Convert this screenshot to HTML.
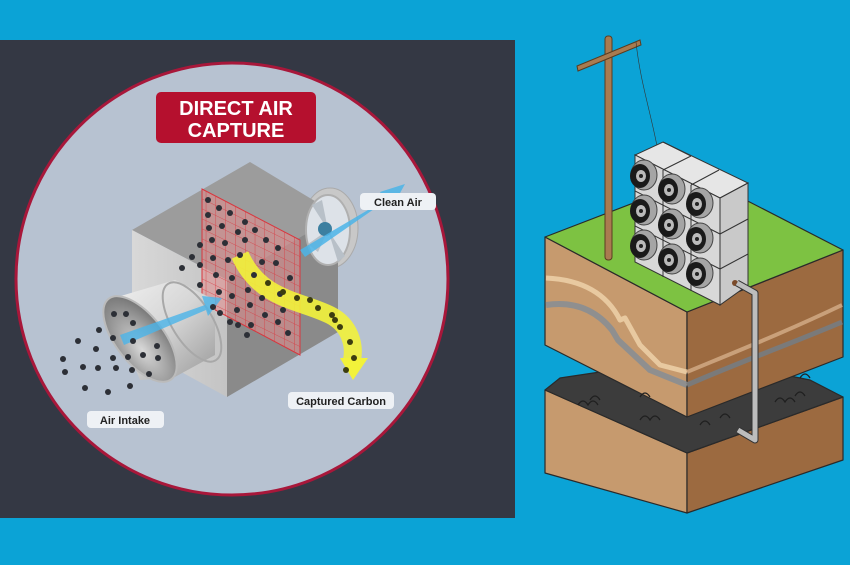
<!DOCTYPE html>
<html><head><meta charset="utf-8"><style>
html,body{margin:0;padding:0;background:#0ba3d6;}
svg{display:block}
text{font-family:"Liberation Sans",sans-serif;font-weight:bold}
</style></head><body>
<svg width="850" height="565" viewBox="0 0 850 565" xmlns="http://www.w3.org/2000/svg">
<defs>
<linearGradient id="cyl" x1="0" y1="0" x2="1" y2="1">
<stop offset="0" stop-color="#f2f2f2"/><stop offset="0.5" stop-color="#d6d6d6"/><stop offset="1" stop-color="#9a9a9a"/></linearGradient>
<radialGradient id="hole" cx="0.6" cy="0.6" r="0.7"><stop offset="0" stop-color="#d8d8d8"/><stop offset="1" stop-color="#6d6d6d"/></radialGradient>
<linearGradient id="lf" x1="0" y1="0" x2="1" y2="0"><stop offset="0" stop-color="#d8d8d8"/><stop offset="1" stop-color="#c4c4c4"/></linearGradient>
<pattern id="grid" width="9.8" height="10" patternUnits="userSpaceOnUse" patternTransform="skewY(26)">
<path d="M0 0H9.8M0 0V10" stroke="#d9363e" stroke-width="0.8" fill="none"/></pattern>
<g id="fan"><ellipse cx="0" cy="0" rx="13" ry="15" fill="#a5a5a5" stroke="#444"/><ellipse cx="-4" cy="1" rx="10" ry="12" fill="#1a1a1a"/><ellipse cx="-3" cy="1" rx="5" ry="6" fill="#bbb"/><circle cx="-3" cy="1" r="2" fill="#222"/></g>
</defs>
<rect width="850" height="565" fill="#0ba3d6"/>
<!-- left panel -->
<rect x="0" y="40" width="515" height="478" fill="#343844"/>
<circle cx="232" cy="279" r="216" fill="#b7c2d1" stroke="#a8173a" stroke-width="3"/>
<rect x="156" y="92" width="160" height="51" rx="5" fill="#b5102e"/>
<text x="236" y="115" fill="#fff" font-size="20" text-anchor="middle">DIRECT AIR</text>
<text x="236" y="137" fill="#fff" font-size="20" text-anchor="middle">CAPTURE</text>
<!-- fan housing -->
<ellipse cx="330" cy="228" rx="28" ry="40" fill="#c8c8c8" stroke="#aaa"/>
<!-- cube -->
<polygon points="132,230 250,162 338,215 227,280" fill="#9c9c9c"/>
<polygon points="132,230 227,280 227,397 132,345" fill="url(#lf)"/>
<polygon points="227,280 338,215 338,332 227,397" fill="#8a8a8a"/>
<ellipse cx="328" cy="230" rx="22" ry="35" fill="#dde2e8" stroke="#b0b0b0" stroke-width="2"/>
<path d="M328 230 L312 205 L322 200Z M328 230 L318 252 L308 244Z M328 230 L345 256 L338 262Z" fill="#b8c0c8"/>
<circle cx="325" cy="229" r="7" fill="#3c7fa0"/>
<!-- filter -->
<polygon points="202,189 300,240 300,355 202,303" fill="#e58d8d" fill-opacity="0.55" stroke="#d9363e"/>
<polygon points="202,189 300,240 300,355 202,303" fill="url(#grid)"/>
<!-- intake cylinder -->
<polygon points="107,300 175,280 215,300 215,355 173,378 140,380" fill="url(#cyl)"/>
<ellipse cx="192" cy="322" rx="45" ry="20" transform="rotate(58 192 322)" fill="none" stroke="#a8a8a8" stroke-width="2"/>
<ellipse cx="140" cy="339" rx="51" ry="24" transform="rotate(52 140 339)" fill="url(#hole)" stroke="#bbb" stroke-width="2"/>
<!-- blue arrows -->
<polygon points="120,335 205,305 202,296 222,298 208,316 206,310 124,345" fill="#4bb4e8" fill-opacity="0.8"/>
<polygon points="300,250 385,200 380,192 405,184 394,204 390,198 305,257" fill="#4bb4e8" fill-opacity="0.85"/>
<!-- yellow arrow -->
<path d="M240 255 C260 300 300 300 330 315 C350 325 355 345 352 360" stroke="#f2f23a" stroke-width="18" fill="none" stroke-opacity="0.9"/>
<polygon points="340,358 368,358 353,380" fill="#f2f23a"/>
<g fill="#2c2f36">
<circle cx="208" cy="200" r="3"/><circle cx="219" cy="208" r="3"/><circle cx="230" cy="213" r="3"/><circle cx="208" cy="215" r="3"/><circle cx="245" cy="222" r="3"/><circle cx="255" cy="230" r="3"/><circle cx="209" cy="228" r="3"/><circle cx="222" cy="226" r="3"/><circle cx="238" cy="232" r="3"/><circle cx="212" cy="240" r="3"/><circle cx="225" cy="243" r="3"/><circle cx="245" cy="240" r="3"/><circle cx="266" cy="240" r="3"/><circle cx="278" cy="248" r="3"/><circle cx="200" cy="245" r="3"/><circle cx="192" cy="257" r="3"/><circle cx="213" cy="258" r="3"/><circle cx="228" cy="260" r="3"/><circle cx="240" cy="255" r="3"/><circle cx="262" cy="262" r="3"/><circle cx="276" cy="263" r="3"/><circle cx="200" cy="265" r="3"/><circle cx="216" cy="275" r="3"/><circle cx="232" cy="278" r="3"/><circle cx="254" cy="275" r="3"/><circle cx="290" cy="278" r="3"/><circle cx="182" cy="268" r="3"/><circle cx="200" cy="285" r="3"/><circle cx="219" cy="292" r="3"/><circle cx="232" cy="296" r="3"/><circle cx="248" cy="290" r="3"/><circle cx="262" cy="298" r="3"/><circle cx="280" cy="294" r="3"/><circle cx="213" cy="307" r="3"/><circle cx="237" cy="310" r="3"/><circle cx="250" cy="305" r="3"/><circle cx="265" cy="315" r="3"/><circle cx="283" cy="310" r="3"/><circle cx="238" cy="325" r="3"/><circle cx="251" cy="325" r="3"/><circle cx="278" cy="322" r="3"/><circle cx="288" cy="333" r="3"/><circle cx="220" cy="313" r="3"/><circle cx="230" cy="322" r="3"/><circle cx="247" cy="335" r="3"/>
<circle cx="114" cy="314" r="3"/><circle cx="126" cy="314" r="3"/><circle cx="133" cy="323" r="3"/><circle cx="99" cy="330" r="3"/><circle cx="113" cy="338" r="3"/><circle cx="133" cy="341" r="3"/><circle cx="157" cy="346" r="3"/><circle cx="78" cy="341" r="3"/><circle cx="96" cy="349" r="3"/><circle cx="113" cy="358" r="3"/><circle cx="143" cy="355" r="3"/><circle cx="158" cy="358" r="3"/><circle cx="128" cy="357" r="3"/><circle cx="63" cy="359" r="3"/><circle cx="83" cy="367" r="3"/><circle cx="65" cy="372" r="3"/><circle cx="98" cy="368" r="3"/><circle cx="116" cy="368" r="3"/><circle cx="132" cy="370" r="3"/><circle cx="149" cy="374" r="3"/><circle cx="85" cy="388" r="3"/><circle cx="108" cy="392" r="3"/><circle cx="130" cy="386" r="3"/>
</g>
<g fill="#3c3d10"><circle cx="268" cy="283" r="3"/><circle cx="283" cy="292" r="3"/><circle cx="297" cy="298" r="3"/><circle cx="310" cy="300" r="3"/><circle cx="318" cy="308" r="3"/><circle cx="332" cy="315" r="3"/><circle cx="340" cy="327" r="3"/><circle cx="350" cy="342" r="3"/><circle cx="354" cy="358" r="3"/><circle cx="346" cy="370" r="3"/><circle cx="335" cy="320" r="3"/></g>
<!-- labels -->
<rect x="360" y="193" width="76" height="17" rx="4" fill="#eef1f5"/>
<text x="398" y="206" font-size="11" text-anchor="middle" fill="#222">Clean Air</text>
<rect x="288" y="392" width="106" height="17" rx="4" fill="#eef1f5"/>
<text x="341" y="405" font-size="11" text-anchor="middle" fill="#222">Captured Carbon</text>
<rect x="87" y="411" width="77" height="17" rx="4" fill="#eef1f5"/>
<text x="125" y="424" font-size="11" text-anchor="middle" fill="#222">Air Intake</text>
<!-- right: lower block -->
<g stroke="#2a2a2a" stroke-width="1.2" stroke-linejoin="round">
<polygon points="545,390 687,453 687,513 545,473" fill="#c69a6e"/>
<polygon points="687,453 843,397 843,460 687,513" fill="#9c6a40"/>
<polygon points="545,390 560,378 600,372 640,370 700,350 760,370 810,380 843,397 687,453" fill="#3c3c3c"/>
<!-- upper block -->
<polygon points="545,237 687,312 687,417 545,345" fill="#c69a6e"/>
<polygon points="687,312 843,250 843,357 687,417" fill="#9c6a40"/>
<polygon points="545,237 701,177 843,250 687,312" fill="#7dc242"/>
</g>
<g fill="none" stroke-linejoin="round">
<path d="M546 278 C590 280 610 300 620 320 L625 318 L640 345 L660 365 L687 372" stroke="#e8c9a0" stroke-width="5"/>
<path d="M546 305 C580 300 600 315 612 330 L618 340 L650 370 L687 385" stroke="#8f8f8f" stroke-width="6"/>
<path d="M687 372 C740 350 790 330 842 305" stroke="#c9a07a" stroke-width="4"/>
<path d="M687 385 C740 362 800 340 842 322" stroke="#7a7a7a" stroke-width="5"/>
</g>
<g stroke="#1f1f1f" fill="none" stroke-width="1.2">
<path d="M578 405 q5 -8 10 0 q5 -8 10 0 M590 400 q5 -8 10 0 M640 397 q5 -8 10 0 M640 420 q5 -8 10 0 q5 -8 10 0 M700 425 q5 -8 10 0 M720 418 q5 -8 10 0 M775 402 q5 -8 10 0 q5 -8 10 0 M795 396 q5 -8 10 0 M800 378 q5 -8 10 0"/>
</g>
<!-- pole -->
<rect x="605" y="36" width="7" height="224" rx="3" fill="#a97b50" stroke="#5a3c20"/>
<polygon points="577,66 640,40 641,45 578,71" fill="#a97b50" stroke="#5a3c20"/>
<path d="M636 42 C640 80 650 110 657 146" stroke="#333" fill="none" stroke-width="0.6"/>
<!-- DAC units -->
<g stroke="#333" stroke-width="1">
<polygon points="635,155 663,142 748,183 720,198" fill="#e6e6e6"/>
<polygon points="720,198 748,183 748,285 720,305" fill="#c9c9c9"/>
<polygon points="635,155 720,198 720,305 635,262" fill="#d8d8d8"/>
<path d="M663 142 L691 156 M691 156 L663 170 M663 170 L663 277 M691 185 L691 291 M691 185 L719 170 M635 191 L720 234 L748 219 M635 226 L720 269 L748 254" fill="none"/>
</g>
<g>
<use href="#fan" x="644" y="175"/><use href="#fan" x="672" y="189"/><use href="#fan" x="700" y="203"/>
<use href="#fan" x="644" y="210"/><use href="#fan" x="672" y="224"/><use href="#fan" x="700" y="238"/>
<use href="#fan" x="644" y="245"/><use href="#fan" x="672" y="259"/><use href="#fan" x="700" y="273"/>
</g>
<!-- pipe -->
<circle cx="735" cy="283" r="3" fill="#7a4a2a"/>
<path d="M737 283 L755 293 L755 440 L738 430" stroke="#333" stroke-width="7" fill="none" stroke-linejoin="round"/>
<path d="M737 283 L755 293 L755 440 L738 430" stroke="#bdbdbd" stroke-width="5" fill="none" stroke-linejoin="round"/>
</svg>
</body></html>
